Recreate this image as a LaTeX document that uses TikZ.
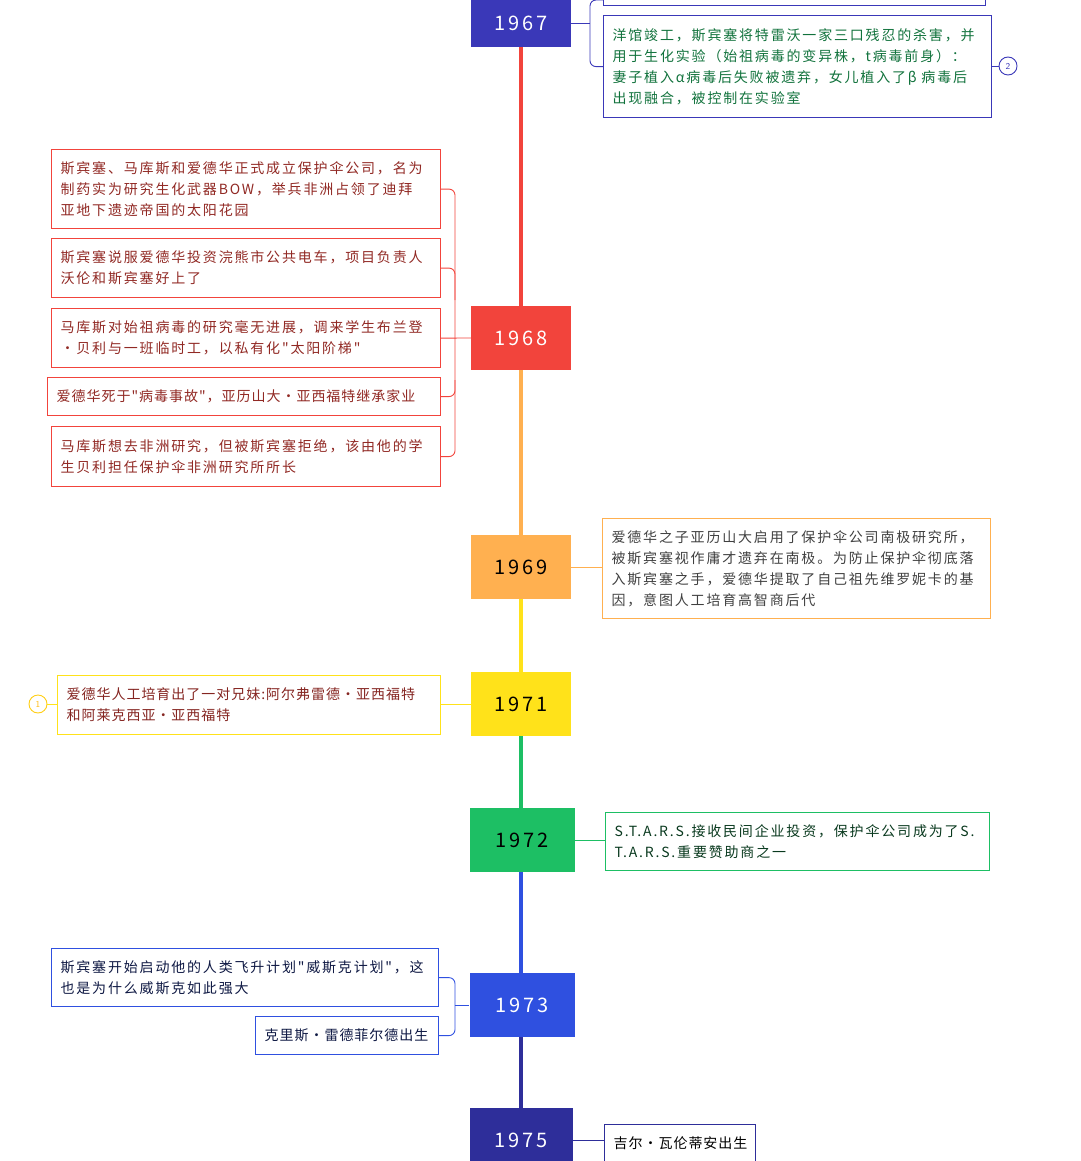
\documentclass[tikz,border=0pt]{standalone}
\usepackage{fontspec}
\newfontfamily\cjk[LetterSpace=13]{Noto Sans CJK SC}
\begin{document}
\begin{tikzpicture}[x=1pt,y=-1pt,
 yr/.style={draw=none,fill=#1,minimum width=100pt,minimum height=64pt,text=white,font=\cjk\fontsize{20}{20}\selectfont,inner sep=0},
 tb/.style={draw=#1,line width=1.2pt,anchor=north west,align=left,inner xsep=9pt,inner ysep=4pt,font=\cjk\fontsize{14}{21}\selectfont},
 tight/.style={font=\cjk\addfontfeature{LetterSpace=7}\fontsize{14}{21}\selectfont},
 cn/.style={draw=#1,line width=0.9pt,rounded corners=6pt},
 sp/.style={line width=4pt,draw=#1}]
\useasboundingbox (0,0) rectangle (1080,1161);
\definecolor{c67}{HTML}{3A38B8}\definecolor{c68}{HTML}{F2443C}\definecolor{c69}{HTML}{FFB050}
\definecolor{c71}{HTML}{FFE21A}\definecolor{c72}{HTML}{1DBF64}\definecolor{c73}{HTML}{2F50E0}\definecolor{c75}{HTML}{2E2E9A}
% spine
\draw[sp=c68] (521,40) -- (521,320);
\draw[sp=c69] (521,360) -- (521,550);
\draw[sp=c71] (521,590) -- (521,690);
\draw[sp=c72] (521,725) -- (521,820);
\draw[sp=c73] (521,860) -- (521,990);
\draw[sp=c75] (521,1030) -- (521,1120);
% year boxes
\node[yr=c67,minimum height=48pt] (y67) at (521,23) {1967};
\node[yr=c68] (y68) at (521,338) {1968};
\node[yr=c69,text=black] (y69) at (521,567) {1969};
\node[yr=c71,text=black] (y71) at (521,704) {1971};
\node[yr=c72,text=black,minimum width=105pt] (y72) at (522,840) {1972};
\node[yr=c73,minimum width=105pt] (y73) at (522,1005) {1973};
\node[yr=c75,minimum width=103pt] (y75) at (521,1140) {1975};
% 1967
\node[tb=c67,minimum width=382pt,minimum height=36pt] (t0) at (603,-31) {};
\node[tb=c67,text=c72!60!black,text width=370pt,minimum height=102pt] (t1) at (603,15) {洋馆竣工，斯宾塞将特雷沃一家三口残忍的杀害，并\\用于生化实验（始祖病毒的变异株，t病毒前身）：\\妻子植入α病毒后失败被遗弃，女儿植入了β 病毒后\\出现融合，被控制在实验室};
\node[draw=c67,circle,line width=0.9pt,inner sep=1pt,minimum size=18pt,font=\sffamily\small,text=c67] (n2) at (1008,66) {2};
\draw[cn=c67] (n2.west) -- (t1.east|-n2.west);
\draw[cn=c67] (y67.east) -- (590,23);
\draw[cn=c67] (603,0) -| (590,23) |- (t1.west);
% 1968
\begin{scope}[every node/.append style={text=c68!60!black}]
\node[tb=c68,text width=371pt,minimum height=79pt] (a1) at (51,149) {斯宾塞、马库斯和爱德华正式成立保护伞公司，名为\\制药实为研究生化武器BOW，举兵非洲占领了迪拜\\亚地下遗迹帝国的太阳花园};
\node[tb=c68,text width=371pt,minimum height=59pt] (a2) at (51,238) {斯宾塞说服爱德华投资浣熊市公共电车，项目负责人\\沃伦和斯宾塞好上了};
\node[tb=c68,text width=371pt,minimum height=59pt] (a3) at (51,308) {马库斯对始祖病毒的研究毫无进展，调来学生布兰登\\·贝利与一班临时工，以私有化"太阳阶梯"};
\node[tb=c68,tight,text width=375pt,minimum height=38pt] (a4) at (47,377) {爱德华死于"病毒事故"，亚历山大·亚西福特继承家业};
\node[tb=c68,text width=371pt,minimum height=60pt] (a5) at (51,426) {马库斯想去非洲研究，但被斯宾塞拒绝，该由他的学\\生贝利担任保护伞非洲研究所所长};
\end{scope}
\draw[cn=c68] (a1.east) -| (455,338);
\draw[cn=c68] (a5.east) -| (455,338);
\draw[cn=c68] (a2.east) -| (455,300);
\draw[cn=c68] (a4.east) -| (455,380);
\draw[c68,line width=0.9pt] (a3.east) -- (y68.west);
% 1969
\node[tb=c69,text=black!75,text width=370pt,minimum height=100pt] (b1) at (602,518) {爱德华之子亚历山大启用了保护伞公司南极研究所，\\被斯宾塞视作庸才遗弃在南极。为防止保护伞彻底落\\入斯宾塞之手，爱德华提取了自己祖先维罗妮卡的基\\因，意图人工培育高智商后代};
\draw[c69,line width=0.9pt] (y69.east) -- (b1.west|-y69.east);
% 1971
\node[tb=c71,tight,text=c68!55!black,text width=365pt,minimum height=59pt] (d1) at (57,675) {爱德华人工培育出了一对兄妹:阿尔弗雷德·亚西福特\\和阿莱克西亚·亚西福特};
\node[draw=c71!80!orange,circle,line width=0.9pt,inner sep=1pt,minimum size=18pt,font=\sffamily\small,text=c71!60!orange] (n1) at (38,704) {1};
\draw[c71,line width=0.9pt] (n1.east) -- (d1.west|-n1.east);
\draw[c71,line width=0.9pt] (d1.east|-y71.west) -- (y71.west);
% 1972
\node[tb=c72,text=c72!30!black,text width=366pt,minimum height=58pt] (e1) at (605,812) {S.T.A.R.S.接收民间企业投资，保护伞公司成为了S.\\T.A.R.S.重要赞助商之一};
\draw[c72,line width=0.9pt] (y72.east) -- (e1.west|-y72.east);
% 1973
\node[tb=c73,text=c73!30!black,text width=369pt,minimum height=58pt] (f1) at (51,948) {斯宾塞开始启动他的人类飞升计划"威斯克计划"，这\\也是为什么威斯克如此强大};
\node[tb=c73,tight,text=c73!30!black,text width=165pt,minimum height=38pt] (f2) at (255,1016) {克里斯·雷德菲尔德出生};
\draw[cn=c73] (f1.east) -| (455,1005);
\draw[cn=c73] (f2.east) -| (455,1005);
\draw[c73,line width=0.9pt] (455,1005) -- (y73.west);
% 1975
\node[tb=c75,tight,text=black,text width=133pt,minimum height=38pt] (g1) at (604,1124) {吉尔·瓦伦蒂安出生};
\draw[c75,line width=0.9pt] (y75.east) -- (g1.west|-y75.east);
\end{tikzpicture}
\end{document}
